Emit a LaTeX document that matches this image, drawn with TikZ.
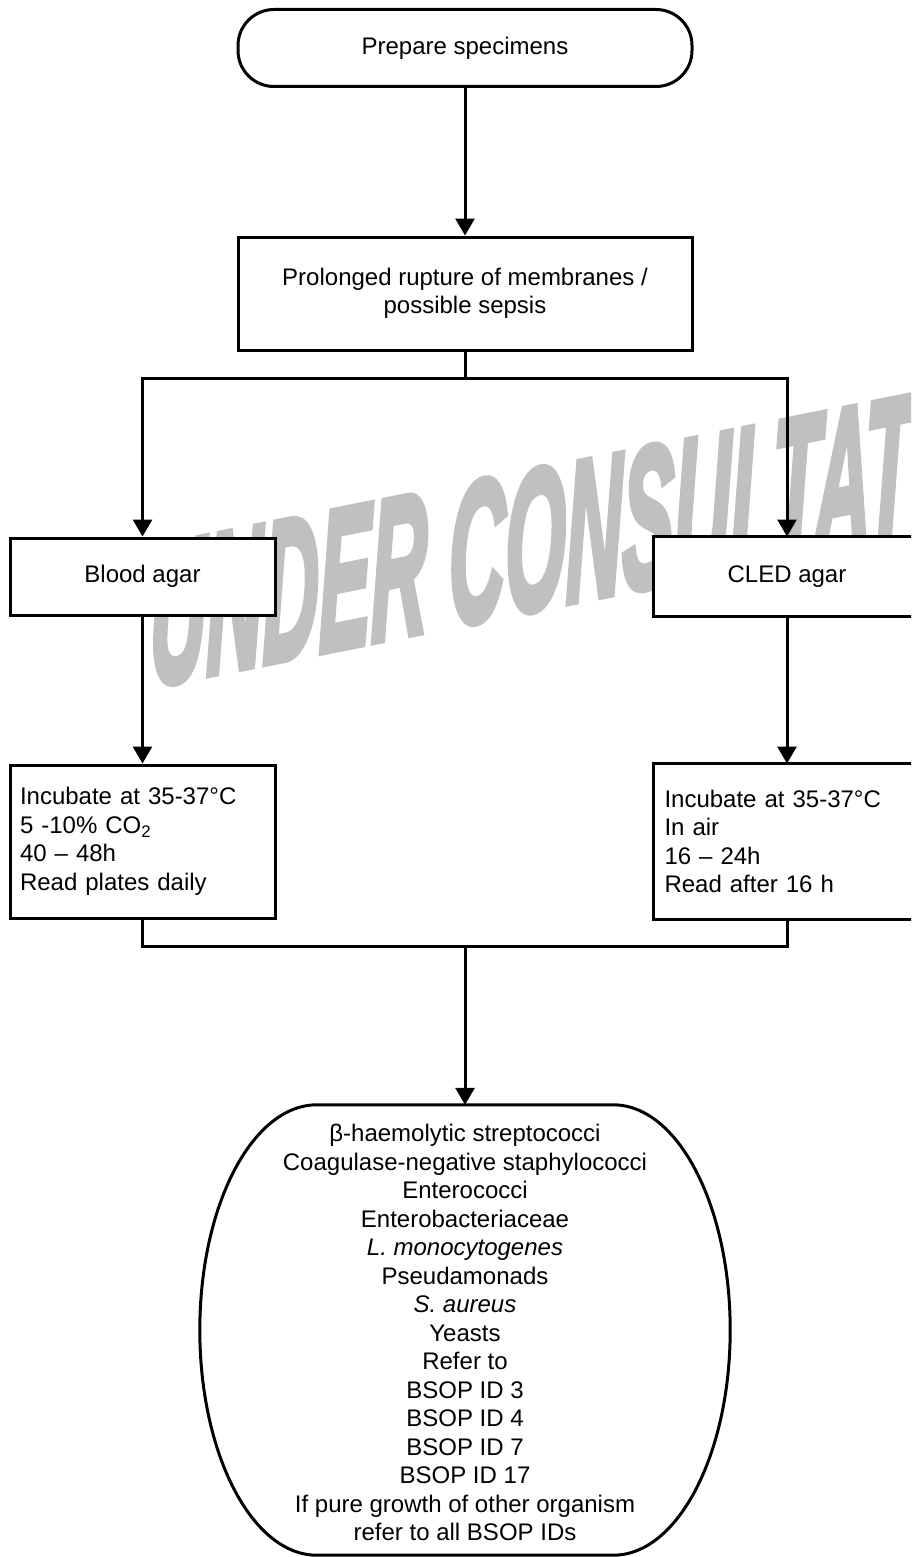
\documentclass[tikz,border=0pt]{standalone}
\usepackage{fontspec}
\setmainfont{Liberation Sans}
\newfontfamily\wmfont{Liberation Sans Bold Italic}[FakeBold=4]
\usetikzlibrary{arrows.meta}
\definecolor{wm}{RGB}{192,192,192}
\newcommand\mainfs{\fontsize{24}{28.5}\selectfont}
\begin{document}
\begin{tikzpicture}[x=1pt,y=-1pt,
  box/.style={draw, line width=3pt, fill=white, inner sep=0pt, align=center, font=\mainfs},
  openbox/.style={box, draw=none},
  bline/.style={line width=3pt},
  conn/.style={line width=3pt},
  arr/.style={conn, -{Triangle[length=17pt,width=19pt]}}]
\useasboundingbox (0,0) rectangle (911,1557);
\clip (0,0) rectangle (911,1557);
% watermark
\begin{scope}[shift={(150,686)}, yslant=0.2]
  \node[transform shape, xscale=0.39, anchor=base west, inner sep=0pt, text=wm,
        font=\fontsize{200}{200}\wmfont] (wmark) at (0,0) {UNDER CONSULTATION};
\end{scope}
% nodes
\node[box, rounded corners=36pt, minimum width=454pt, minimum height=77pt] (start) at (465,48) {Prepare specimens};
\node[box, minimum width=454pt, minimum height=113pt] (prom) at (465,293.5) {Prolonged rupture of membranes /\\possible sepsis};
\node[box, minimum width=265pt, minimum height=77pt] (blood) at (142.5,576.5) {Blood agar};
\node[openbox, minimum width=265pt, minimum height=77pt] (cled) at (787,576.5) {CLED agar};
\draw[bline] ([xshift=40pt]cled.north east) -- (cled.north west) -- (cled.south west) -- ([xshift=40pt]cled.south east);
\node[box, minimum height=153pt, text width=245pt, align=left, inner xsep=10pt] (inc1) at (142.5,841.5)
  {Incubate at 35-37°C\\5 -10\% CO\textsubscript{2}\\40 – 48h\\Read plates daily};
\node[openbox, minimum height=153pt, text width=245pt, align=left, inner xsep=10pt] (inc2) at (787,841.5)
  {Incubate at 35-37°C\\In air\\16 – 24h\\Read after 16 h};
\draw[bline] ([xshift=40pt]inc2.north east) -- (inc2.north west) -- (inc2.south west) -- ([xshift=40pt]inc2.south east);
\node[minimum width=530pt, minimum height=450pt, inner sep=0pt] (resbox) at (465,1330) {};
\node[font=\mainfs, align=center, inner sep=0pt] (res) at (465,1332.5)
  {β-haemolytic streptococci\\Coagulase-negative staphylococci\\Enterococci\\Enterobacteriaceae\\
   \textit{L. monocytogenes}\\Pseudamonads\\\textit{S. aureus}\\Yeasts\\Refer to\\BSOP ID 3\\BSOP ID 4\\
   BSOP ID 7\\BSOP ID 17\\If pure growth of other organism\\refer to all BSOP IDs};
\draw[bline] ([xshift=117pt]resbox.north west) -- ([xshift=-117pt]resbox.north east)
  .. controls +(64.6,0) and +(0,-124.3) .. (resbox.east)
  .. controls +(0,124.3) and +(64.6,0) .. ([xshift=-117pt]resbox.south east)
  -- ([xshift=117pt]resbox.south west)
  .. controls +(-64.6,0) and +(0,124.3) .. (resbox.west)
  .. controls +(0,-124.3) and +(-64.6,0) .. ([xshift=117pt]resbox.north west) -- cycle;
% connectors
\coordinate (split) at (465,378);
\coordinate (merge) at (465,946);
\draw[arr] (start) -- (prom);
\draw[conn] (prom.south) -- (split);
\draw[arr] (split) -| (blood.north);
\draw[arr] (split) -| (cled.north);
\draw[arr] (blood) -- (inc1);
\draw[arr] (cled) -- (inc2);
\draw[conn] (inc1.south) |- (merge) -| (inc2.south);
\draw[arr] (merge) -- (resbox.north);
\end{tikzpicture}
\end{document}
